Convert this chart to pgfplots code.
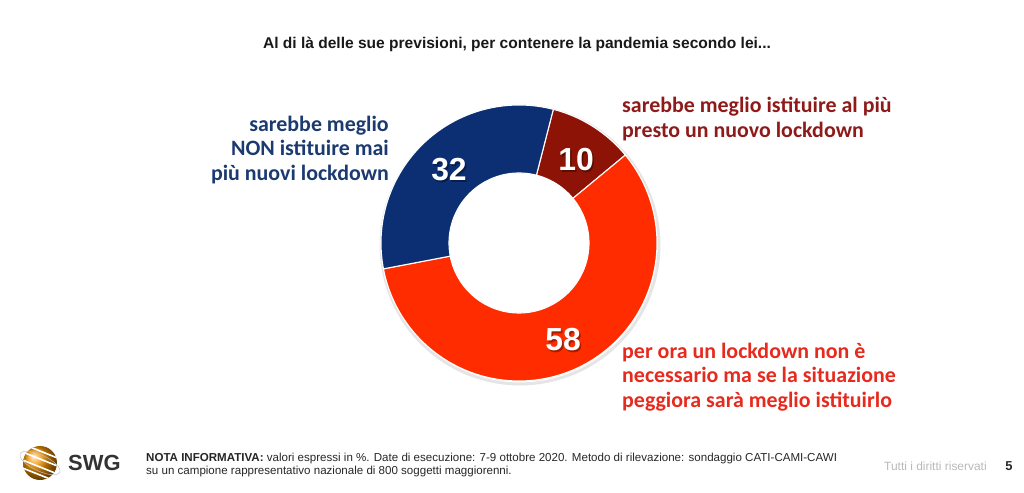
\documentclass[border=0pt]{standalone}
\usepackage{pgfplots}
\pgfplotsset{compat=1.18}
\usepackage{pgfplotstable}
\usepackage{fontspec}
\setmainfont{Liberation Sans}
\newfontfamily\calibri{Carlito}
\definecolor{segBlue}{HTML}{0B2F72}
\definecolor{segDark}{HTML}{8C1305}
\definecolor{segRed}{HTML}{FF2C00}
\definecolor{txtBlue}{HTML}{1B3A70}
\definecolor{txtDark}{HTML}{8E1A1A}
\definecolor{txtRed}{HTML}{E62A1E}
\definecolor{logoOr}{HTML}{F39200}

% values (percent), in clockwise order starting from the top
\pgfplotstableread{
value
10
58
32
}\donutdata
\pgfplotstablegetelem{0}{value}\of\donutdata \let\vA\pgfplotsretval
\pgfplotstablegetelem{1}{value}\of\donutdata \let\vB\pgfplotsretval
\pgfplotstablegetelem{2}{value}\of\donutdata \let\vC\pgfplotsretval

\def\cx{519}\def\cy{249}\def\Ro{138}\def\Ri{70}
\pgfmathsetmacro{\aA}{75.6}
\pgfmathsetmacro{\aB}{\aA-3.6*\vA}
\pgfmathsetmacro{\aC}{\aB-3.6*\vB}
\pgfmathsetmacro{\aD}{\aC-3.6*\vC}

% ring segment from angle #1 to #2
\newcommand{\ringseg}[3]{%
\addplot[fill=#3, draw=white, line width=1.1pt, domain=0:3, samples=301, variable=\t]
 ({\cx + (\Ro-(\Ro-\Ri)*min(max(\t-1,0),1))*cos(#1+(#2-#1)*min(\t,1)-(#2-#1)*max(\t-2,0))},
  {\cy + (\Ro-(\Ro-\Ri)*min(max(\t-1,0),1))*sin(#1+(#2-#1)*min(\t,1)-(#2-#1)*max(\t-2,0))}) -- cycle;
}
\newcommand{\numlabel}[3]{%
  \node[text=black, opacity=0.35, font=\fontsize{32}{32}\selectfont\bfseries] at (axis cs:#1+1.5,#2-1.5) {#3};
  \node[text=white, font=\fontsize{32}{32}\selectfont\bfseries] at (axis cs:#1,#2) {#3};
}
\newcommand{\catfont}{\calibri\bfseries\fontsize{22}{24.5}\selectfont}

\begin{document}
\begin{tikzpicture}
\begin{axis}[
  width=1024bp, height=492bp, scale only axis, hide axis,
  xmin=0, xmax=1024, ymin=0, ymax=492, clip=false]

\path (axis cs:0,0) rectangle (axis cs:1024,492);

% faint shadow
\addplot[draw=black, draw opacity=0.10, line width=3pt, domain=0:360, samples=120, variable=\t]
 ({\cx+1+(\Ro+1)*cos(\t)},{\cy-2+(\Ro+1)*sin(\t)});

\ringseg{\aA}{\aB}{segDark}
\ringseg{\aB}{\aC}{segRed}
\ringseg{\aC}{\aD}{segBlue}

% value labels
\numlabel{449}{322}{32}
\numlabel{576}{332}{10}
\numlabel{563}{152}{58}

% category labels
\node[anchor=east, align=right, text=txtBlue, font=\catfont, inner sep=0pt]
  at (axis cs:389,342) {sarebbe meglio\\NON istituire mai\\più nuovi lockdown};
\node[anchor=west, align=left, text=txtDark, font=\catfont, inner sep=0pt]
  at (axis cs:622,373) {sarebbe meglio istituire al più\\presto un nuovo lockdown};
\node[anchor=west, align=left, text=txtRed, font=\catfont, inner sep=0pt]
  at (axis cs:622,115) {per ora un lockdown non è\\necessario ma se la situazione\\peggiora sarà meglio istituirlo};

% title
\node[font=\bfseries\fontsize{15.6}{18}\selectfont, text=black!90] at (axis cs:517,448)
  {Al di là delle sue previsioni, per contenere la pandemia secondo lei...};

% footer
\node[anchor=west, align=left, font=\fontsize{11.6}{14}\selectfont, text=black!85, inner sep=0pt] at (axis cs:146,27)
  {\textbf{NOTA INFORMATIVA:} valori espressi in \%. Date di esecuzione: 7-9 ottobre 2020. Metodo di rilevazione: sondaggio CATI-CAMI-CAWI\\su un campione rappresentativo nazionale di 800 soggetti maggiorenni.};
\node[anchor=west, font=\fontsize{12}{14}\selectfont, text=black!28, inner sep=0pt] at (axis cs:884,26) {Tutti i diritti riservati};
\node[font=\bfseries\fontsize{13}{14}\selectfont, text=black!85] at (axis cs:1009,26) {5};

% logo
\shade[ball color=logoOr] (axis cs:40,29) circle[radius=17bp];
\begin{scope}
\clip (axis cs:40,29) circle[radius=17bp];
\draw[white, line width=1.6pt] (axis cs:20,25) -- (axis cs:60,9);
\draw[white, line width=1.6pt] (axis cs:20,33) -- (axis cs:60,17);
\draw[white, line width=1.6pt] (axis cs:20,41) -- (axis cs:60,25);
\draw[white, line width=1.6pt] (axis cs:20,49) -- (axis cs:60,33);
\end{scope}
\draw[black!25, line width=0.5pt] (axis cs:40,29) ellipse[x radius=22bp, y radius=8bp, rotate=-25];
\node[anchor=west, font=\bfseries\fontsize{22}{22}\selectfont, text=black!80, inner sep=0pt] at (axis cs:68,29) {SWG};
\end{axis}
\end{tikzpicture}
\end{document}
